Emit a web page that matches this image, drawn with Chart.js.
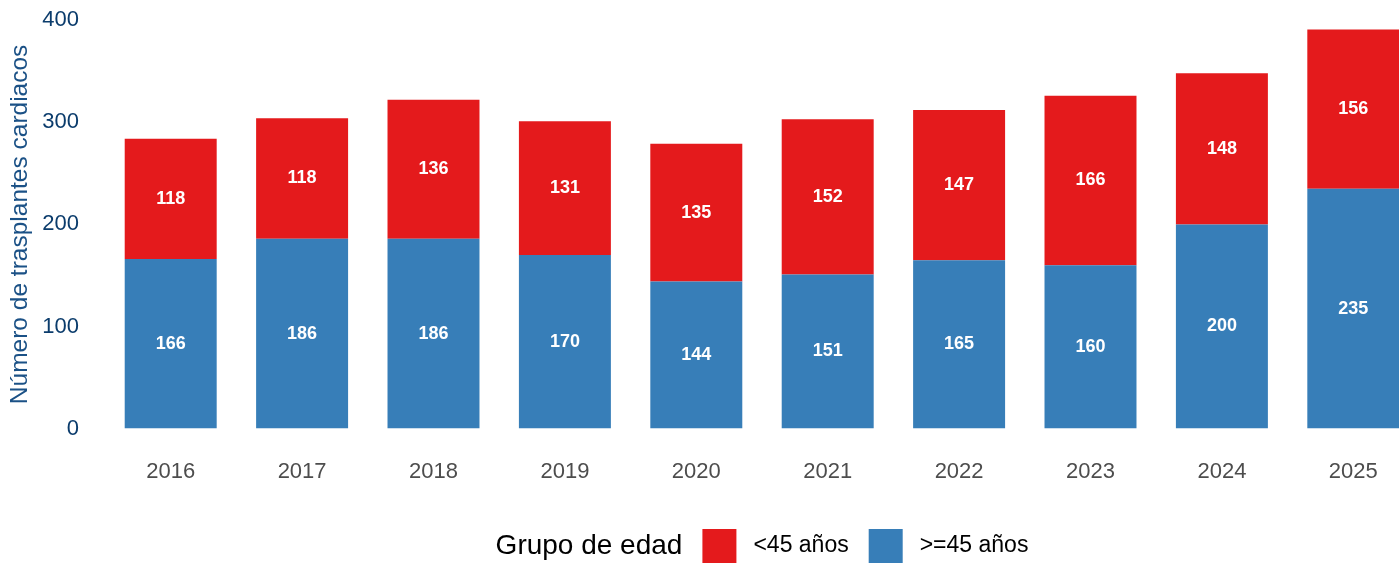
<!DOCTYPE html>
<html>
<head>
<meta charset="utf-8">
<script src="https://cdn.jsdelivr.net/npm/chart.js@4.4.1/dist/chart.umd.min.js"></script>
<style>
  html, body { margin: 0; padding: 0; background: #fff; overflow: hidden; }
  #wrap { width: 1399px; height: 565px; overflow: hidden; }
</style>
</head>
<body>
<div id="wrap"><canvas id="chart" width="1419" height="565"></canvas></div>
<script>
// ----- Data
const years = ["2016", "2017", "2018", "2019", "2020", "2021", "2022", "2023", "2024", "2025"];
const over45 = [166, 186, 186, 170, 144, 151, 165, 160, 200, 235];   // >=45 años
const under45 = [118, 118, 136, 131, 135, 152, 147, 166, 148, 156];  // <45 años
const yTicks = [0, 100, 200, 300, 400];

const FONT = '"Liberation Sans", Arial, sans-serif';
const RED = '#E41A1C';
const BLUE = '#377EB8';

// values in the middle of each segment
const segmentLabels = {
    id: 'segmentLabels',
    afterDatasetsDraw(chart) {
        const { ctx } = chart;
        ctx.save();
        ctx.font = 'bold 18px ' + FONT;
        ctx.fillStyle = '#ffffff';
        ctx.textAlign = 'center';
        ctx.textBaseline = 'middle';
        chart.data.datasets.forEach((ds, i) => {
            chart.getDatasetMeta(i).data.forEach((bar, j) => {
                const p = bar.getProps(['x', 'y', 'base'], true);
                ctx.fillText(String(ds.data[j]), p.x, (p.y + p.base) / 2);
            });
        });
        ctx.restore();
    }
};

// legend centred under the plot area, title on the left
const bottomLegend = {
    id: 'bottomLegend',
    afterDraw(chart) {
        const { ctx, chartArea } = chart;
        const cy = 546;
        const box = 34;
        const items = [
            { label: '<45 años', color: RED },
            { label: '>=45 años', color: BLUE }
        ];
        ctx.save();
        ctx.textBaseline = 'middle';
        ctx.textAlign = 'left';
        ctx.font = '28px ' + FONT;
        const titleW = ctx.measureText('Grupo de edad').width;
        ctx.font = '23px ' + FONT;
        const widths = items.map(it => ctx.measureText(it.label).width);
        let total = titleW;
        items.forEach((it, i) => { total += 20 + box + 17 + widths[i]; });
        let x = (chartArea.left + chartArea.right) / 2 - total / 2;

        ctx.fillStyle = '#000000';
        ctx.font = '28px ' + FONT;
        ctx.fillText('Grupo de edad', x, cy);
        x += titleW;
        ctx.font = '23px ' + FONT;
        items.forEach((it, i) => {
            x += 20;
            ctx.fillStyle = it.color;
            ctx.fillRect(x, cy - box / 2, box, box);
            x += box + 17;
            ctx.fillStyle = '#000000';
            ctx.fillText(it.label, x, cy);
            x += widths[i];
        });
        ctx.restore();
    }
};

new Chart(document.getElementById('chart'), {
    type: 'bar',
    data: {
        labels: years,
        datasets: [
            { label: '>=45 años', data: over45, backgroundColor: BLUE, barPercentage: 0.7, categoryPercentage: 1 },
            { label: '<45 años', data: under45, backgroundColor: RED, barPercentage: 0.7, categoryPercentage: 1 }
        ]
    },
    options: {
        responsive: false,
        animation: false,
        layout: { padding: { top: 0, bottom: 50, right: 0, left: 0 } },
        plugins: { legend: { display: false }, tooltip: { enabled: false } },
        scales: {
            x: {
                stacked: true,
                grid: { display: false, drawTicks: false },
                border: { display: false },
                ticks: { color: '#4d4d4d', font: { family: FONT, size: 22 }, padding: 30, maxRotation: 0 }
            },
            y: {
                stacked: true,
                min: 0,
                max: 400,
                afterBuildTicks(scale) { scale.ticks = yTicks.map(v => ({ value: v })); },
                afterFit(scale) { scale.width = 105; },
                // invisible tick marks push labels left without adding top padding
                grid: { display: false, drawTicks: true, tickLength: 19, tickColor: 'rgba(0,0,0,0)' },
                border: { display: false },
                ticks: { color: '#0b3c6c', font: { family: FONT, size: 22 }, padding: 7 },
                title: {
                    display: true,
                    text: 'Número de trasplantes cardiacos',
                    color: '#1b5186',
                    font: { family: FONT, size: 24.5 },
                    padding: { top: 6, bottom: 0 }
                }
            }
        }
    },
    plugins: [segmentLabels, bottomLegend]
});
</script>
</body>
</html>
